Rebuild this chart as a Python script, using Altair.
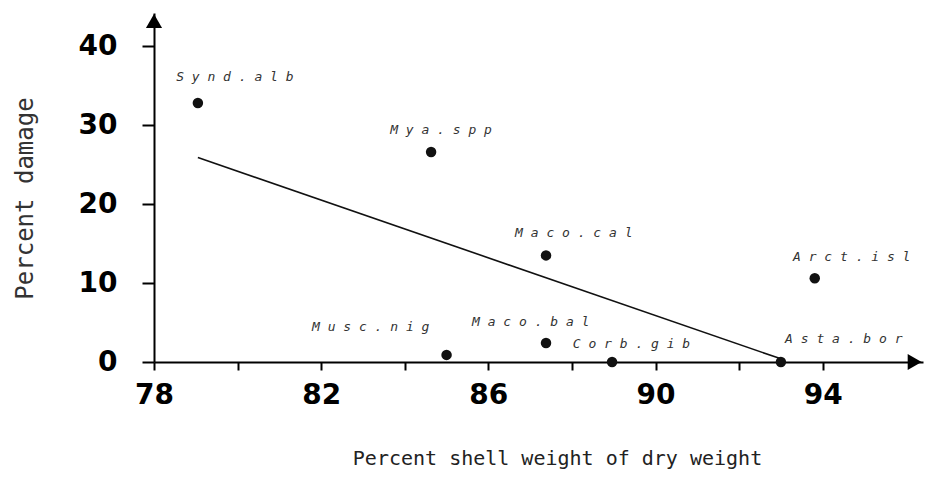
import altair as alt
import pandas as pd

# ---- data ----
species = ["Synd.alb", "Mya.spp", "Maco.cal", "Arct.isl",
           "Musc.nig", "Maco.bal", "Corb.gib", "Asta.bor"]
shell_pct = [79.05, 84.63, 87.38, 93.81, 85.0, 87.38, 88.96, 93.0]
damage_pct = [32.8, 26.6, 13.5, 10.6, 0.9, 2.4, 0.0, 0.0]
# label anchor (left edge / middle) in data units
label_x = [78.53, 83.65, 86.64, 93.29, 81.78, 85.61, 88.02, 93.10]
label_y = [36.1, 29.4, 16.3, 13.3, 4.4, 5.1, 2.3, 2.9]
# fitted line end points
fit_x = [79.05, 93.0]
fit_y = [25.9, 0.4]
x_ticks = [78, 80, 82, 84, 86, 88, 90, 92, 94]
y_ticks = [0, 10, 20, 30, 40]
x_extent = [78, 96.4]
y_extent = [0, 44.2]
arrow_x = [78, 96.2]
arrow_y = [43.2, 0]
arrow_shape = ["triangle-up", "triangle-right"]

pts = pd.DataFrame({"species": species, "x": shell_pct, "y": damage_pct})
labs = pd.DataFrame({"text": [" ".join(s) for s in species], "x": label_x, "y": label_y})
fit = pd.DataFrame({"x": fit_x, "y": fit_y})
arrows = pd.DataFrame({"x": arrow_x, "y": arrow_y, "shape": arrow_shape})

xs = alt.Scale(domain=x_extent, nice=False, zero=False)
ys = alt.Scale(domain=y_extent, nice=False, zero=False)

xaxis = alt.Axis(
    values=x_ticks, grid=False, domainColor="black", domainWidth=2,
    tickColor="black", tickWidth=2, tickSize=8,
    labelExpr="(datum.value - 78) % 4 == 0 ? datum.label : ''",
    labelFont="DejaVu Sans", labelFontWeight="bold", labelFontSize=28,
    labelColor="black", labelPadding=11, labelFlush=False,
    title="Percent shell weight of dry weight", titleFont="DejaVu Sans Mono",
    titleFontSize=20, titleFontWeight="normal", titleColor="#222",
    titleX=403, titleY=96, titleBaseline="middle", titleAlign="center",
)
yaxis = alt.Axis(
    values=y_ticks, grid=False, domainColor="black", domainWidth=2,
    tickColor="black", tickWidth=2, tickSize=12,
    labelFont="DejaVu Sans", labelFontWeight="bold", labelFontSize=28,
    labelColor="black", labelPadding=25, labelFlush=False,
    labelBaseline="middle",
    title="Percent damage", titleFont="DejaVu Sans Mono",
    titleFontSize=24, titleFontWeight="normal", titleColor="#333",
    titleX=-129, titleY=185, titleAngle=-90, titleAlign="center",
    titleBaseline="middle",
)

X = lambda: alt.X("x:Q", scale=xs, axis=xaxis)
Y = lambda: alt.Y("y:Q", scale=ys, axis=yaxis)

line = alt.Chart(fit).mark_line(color="#111", strokeWidth=1.6).encode(x=X(), y=Y())
dots = alt.Chart(pts).mark_point(filled=True, color="#111", size=110, opacity=1).encode(x=X(), y=Y())
text = alt.Chart(labs).mark_text(
    font="DejaVu Sans Mono", fontStyle="italic", fontSize=13, color="#333",
    align="left", baseline="middle"
).encode(x=X(), y=Y(), text="text:N")
arr = alt.Chart(arrows).mark_point(filled=True, color="black", size=260, opacity=1).encode(
    x=X(), y=Y(), shape=alt.Shape("shape:N", scale=None)
)

chart = alt.layer(line, dots, text, arr).properties(
    width=769, height=349, autosize="none",
    padding={"left": 146, "top": 5, "right": 2, "bottom": 107},
    background="white",
).configure_view(stroke=None)

chart.save("out.html", embed_options={"renderer": "svg", "actions": False})
